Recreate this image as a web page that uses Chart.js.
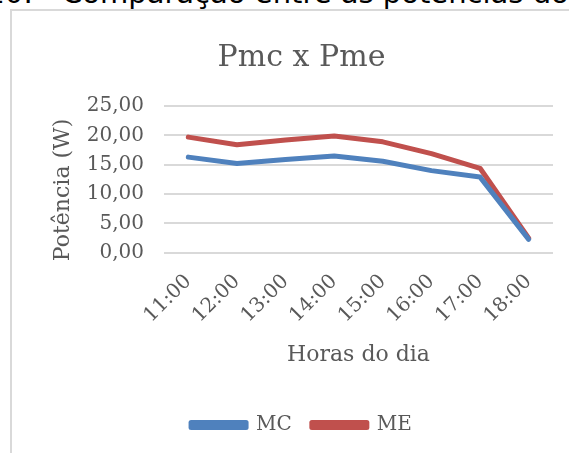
<!DOCTYPE html>
<html>
<head>
<meta charset="utf-8">
<script src="https://cdn.jsdelivr.net/npm/chart.js@4"></script>
<style>
    html, body { margin: 0; padding: 0; background: #fff; overflow: hidden; }
    #wrap { position: relative; width: 569px; height: 453px; }
    #frame { position: absolute; left: 10px; top: 9px; width: 600px; height: 500px; border: 2px solid #d9d9d9; box-sizing: border-box; }
    .cap { position: absolute; top: -21px; font-family: "DejaVu Sans", sans-serif; font-size: 29px; line-height: 29px; color: #000; white-space: nowrap; }
    canvas { position: absolute; left: 0; top: 0; }
</style>
</head>
<body>
<div id="wrap">
    <div class="cap" style="right: 536px;">Figura 10:</div>
    <div class="cap" style="left: 62px;">Comparação entre as potências do módulo</div>
    <div id="frame"></div>
    <canvas id="chart" width="569" height="453"></canvas>
</div>
<script>
// horas do dia
const horas = ["11:00", "12:00", "13:00", "14:00", "15:00", "16:00", "17:00", "18:00"];
// potencia (W)
const mc = [16.3, 15.2, 15.9, 16.5, 15.6, 14.0, 12.9, 2.3];
const me = [19.7, 18.4, 19.2, 19.9, 18.9, 16.9, 14.4, 2.5];
const yMin = 0, yMax = 25, yStep = 5;

const cinza = '#595959';
const serif = '"DejaVu Serif", serif';

document.addEventListener('DOMContentLoaded', () => {
    const ctx = document.getElementById('chart').getContext('2d');
    new Chart(ctx, {
        type: 'line',
        data: {
            labels: horas,
            datasets: [{
                label: 'MC',
                data: mc,
                borderColor: '#4f81bd',
                backgroundColor: '#4f81bd',
                borderWidth: 5,
                borderCapStyle: 'round',
                borderJoinStyle: 'round',
                pointRadius: 0,
                tension: 0
            }, {
                label: 'ME',
                data: me,
                borderColor: '#c0504d',
                backgroundColor: '#c0504d',
                borderWidth: 5,
                borderCapStyle: 'round',
                borderJoinStyle: 'round',
                pointRadius: 0,
                tension: 0
            }]
        },
        options: {
            responsive: false,
            animation: false,
            layout: { padding: { top: 40, right: 16, left: 50, bottom: 8 } },
            plugins: {
                title: {
                    display: true,
                    text: 'Pmc x Pme',
                    color: cinza,
                    font: { family: serif, size: 30, weight: 'normal' },
                    padding: { top: 0, bottom: 30 }
                },
                legend: {
                    position: 'bottom',
                    labels: {
                        color: cinza,
                        font: { family: serif, size: 20 },
                        boxWidth: 55,
                        boxHeight: 5,
                        padding: 20
                    }
                },
                tooltip: { enabled: false }
            },
            scales: {
                x: {
                    offset: true,
                    grid: { display: false },
                    border: { display: false },
                    ticks: {
                        color: cinza,
                        font: { family: serif, size: 20 },
                        minRotation: 45,
                        maxRotation: 45,
                        padding: 9
                    },
                    title: {
                        display: true,
                        text: 'Horas do dia',
                        color: cinza,
                        font: { family: serif, size: 22 },
                        padding: { top: 5, bottom: 27 }
                    }
                },
                y: {
                    min: yMin,
                    max: yMax,
                    afterFit: (scale) => { scale.width = 114; },
                    grid: { color: '#d9d9d9', lineWidth: 2, drawTicks: false },
                    border: { display: false },
                    ticks: {
                        stepSize: yStep,
                        color: cinza,
                        font: { family: serif, size: 20 },
                        padding: 20,
                        callback: (v) => v.toFixed(2).replace('.', ',')
                    },
                    title: {
                        display: true,
                        text: 'Potência (W)   ',
                        color: cinza,
                        font: { family: serif, size: 22 },
                        padding: { top: 0, bottom: 4 }
                    }
                }
            }
        }
    });
});
</script>
</body>
</html>
